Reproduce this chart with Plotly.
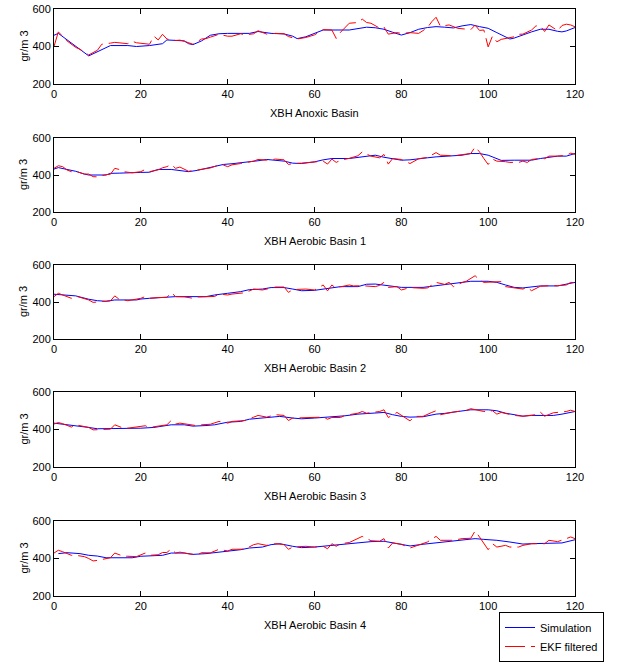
import plotly.graph_objects as go

# ---------------- data ----------------
titles = ["XBH Anoxic Basin", "XBH Aerobic Basin 1", "XBH Aerobic Basin 2",
          "XBH Aerobic Basin 3", "XBH Aerobic Basin 4"]
x_ticks = [0, 20, 40, 60, 80, 100, 120]
y_ticks = [200, 400, 600]
y_label = "gr/m 3"

# Subplot 1 - Anoxic
sim1_x = [0, 1, 8, 13, 17, 19, 22, 24, 25, 26, 30, 31, 32, 34, 36, 38, 40, 45, 47, 50,
          53, 55, 56, 58, 60, 62, 68, 70, 72, 74, 76, 78, 80, 82, 84, 86, 88, 90, 92, 94,
          96, 98, 100, 102, 104, 105, 106, 108, 110, 112, 114, 116, 117, 118, 120]
sim1_y = [460, 470, 350, 405, 405, 400, 405, 413, 415, 435, 430, 415, 410, 430, 460, 468, 470, 470, 480, 470,
          467, 455, 442, 452, 470, 488, 488, 497, 503, 500, 492, 476, 461, 474, 492, 501, 506, 503, 499, 510,
          517, 506, 497, 474, 449, 440, 445, 463, 478, 492, 492, 481, 478, 483, 501]
ekf1 = {0: 400, 1: 478, 3: 430, 5: 395, 6: 385, 8: 355, 10: 380, 11: 412, 13: 418, 14: 422, 17: 415,
        18: 428, 19: 420, 22: 412, 23: 455, 24: 435, 25: 465, 26: 440, 28: 432, 29: 434, 30: 428,
        32: 412, 34: 440, 35: 442, 36: 450, 38: 465, 40: 455, 41: 455, 43: 468, 44: 462, 46: 468,
        47: 484, 49: 466, 51: 470, 53: 468, 54: 453, 56: 440, 58: 448, 60: 462, 62: 490, 64: 488,
        65: 443, 66: 476, 67: 500, 68: 524, 70: 528, 71: 546, 72: 528, 73: 524, 75: 498, 76: 504,
        77: 466, 78: 470, 79: 474, 80: 470, 82: 474, 84: 470, 86: 500, 87: 532, 88: 556, 89: 508,
        91: 515, 93: 497, 95: 492, 96: 490, 97: 514, 98: 486, 99: 488, 100: 398, 101: 456, 102: 425,
        103: 438, 105: 448, 106: 452, 107: 465, 108: 466, 110: 488, 111: 510, 112: 510, 113: 480,
        114: 515, 116: 484, 117: 512, 118: 519, 119: 515, 120: 505}
ekf1_x = list(ekf1.keys()); ekf1_y = list(ekf1.values())

# Subplot 2 - Aerobic 1
sim2_x = [0, 1, 3, 5, 7, 8, 12, 13, 15, 19, 20, 22, 24, 27, 30, 31, 33, 35, 37, 39,
          41, 43, 45, 47, 49, 51, 53, 55, 57, 59, 60, 62, 64, 68, 70, 72, 74, 76, 78, 80,
          82, 84, 86, 88, 90, 92, 94, 96, 98, 100, 102, 103, 106, 110, 112, 114, 116, 118, 120]
sim2_y = [432, 440, 430, 420, 405, 400, 400, 409, 410, 410, 414, 415, 430, 430, 421, 418, 425, 436, 446, 457,
          461, 466, 468, 477, 484, 479, 475, 464, 462, 468, 471, 482, 489, 489, 495, 502, 507, 496, 486, 480,
          482, 489, 493, 498, 502, 504, 507, 516, 516, 507, 489, 479, 480, 480, 489, 496, 502, 502, 516]
ekf2 = {0: 436, 1: 450, 2: 445, 3: 427, 4: 418, 5: 420, 7: 405, 8: 405, 9: 391, 10: 390, 12: 402,
        13: 404, 14: 436, 15: 430, 16: 418, 18: 412, 20: 418, 21: 430, 22: 418, 24: 428, 25: 439,
        26: 445, 27: 457, 28: 436, 29: 443, 31: 420, 33: 427, 34: 430, 36: 438, 38: 454, 39: 454,
        40: 445, 41: 455, 43: 462, 45: 468, 46: 475, 47: 484, 49: 480, 51: 486, 53: 482, 54: 457,
        55: 462, 57: 464, 58: 466, 60: 468, 62: 475, 63: 459, 64: 486, 65: 468, 66: 480, 68: 490,
        70: 504, 71: 525, 73: 502, 75: 493, 76: 511, 77: 459, 78: 489, 80: 484, 82: 462, 84: 488,
        85: 490, 86: 495, 88: 521, 89: 507, 92: 504, 94: 508, 96: 516, 97: 552, 98: 525, 99: 489,
        100: 457, 101: 486, 102: 475, 104: 472, 105: 468, 107: 468, 108: 475, 109: 468, 110: 484,
        112: 490, 113: 488, 114: 502, 116: 502, 118: 507, 119: 518, 120: 512}
ekf2_x = list(ekf2.keys()); ekf2_y = list(ekf2.values())

# Subplot 3 - Aerobic 2
sim3_x = [0, 2, 5, 8, 10, 12, 14, 19, 20, 22, 24, 26, 28, 35, 37, 40, 43, 45, 48, 50,
          53, 55, 57, 60, 62, 64, 66, 70, 72, 74, 76, 78, 80, 85, 88, 90, 92, 94, 96, 100,
          102, 104, 106, 108, 110, 112, 116, 118, 120]
sim3_y = [442, 440, 433, 415, 407, 404, 411, 411, 416, 420, 424, 424, 429, 429, 438, 447, 456, 467, 470, 478,
          478, 470, 461, 463, 470, 479, 483, 483, 496, 497, 492, 483, 479, 479, 488, 496, 499, 506, 512, 512,
          506, 492, 479, 476, 481, 487, 487, 496, 506]
ekf3 = {0: 429, 1: 447, 2: 438, 4: 420, 5: 432, 7: 420, 8: 411, 9: 398, 10: 400, 12: 404, 13: 406,
        14: 433, 15: 415, 17: 407, 18: 410, 20: 420, 21: 429, 22: 420, 24: 424, 26: 425, 27: 451,
        28: 429, 30: 428, 32: 420, 33: 427, 35: 430, 37: 430, 38: 443, 40: 438, 41: 443, 44: 450,
        46: 470, 48: 465, 50: 475, 51: 481, 53: 481, 54: 452, 55: 467, 58: 470, 60: 465, 62: 492,
        63: 460, 64: 492, 65: 474, 66: 482, 68: 492, 69: 487, 71: 488, 73: 487, 74: 483, 75: 490,
        76: 506, 77: 479, 79: 483, 80: 465, 82: 478, 85: 474, 86: 476, 88: 506, 90: 495, 91: 506,
        92: 483, 94: 505, 95: 513, 97: 542, 98: 519, 99: 506, 101: 510, 103: 510, 104: 483, 105: 480,
        106: 474, 108: 470, 109: 479, 110: 461, 112: 485, 113: 487, 114: 488, 116: 488, 118: 492,
        119: 506, 120: 504}
ekf3_x = list(ekf3.keys()); ekf3_y = list(ekf3.values())

# Subplot 4 - Aerobic 3
sim4_x = [0, 2, 5, 8, 10, 13, 18, 20, 23, 25, 27, 30, 32, 35, 37, 40, 43, 45, 48, 50,
          52, 55, 57, 60, 64, 67, 70, 74, 76, 78, 80, 82, 85, 88, 90, 93, 96, 100, 102, 104,
          106, 108, 110, 115, 117, 120]
sim4_y = [434, 429, 420, 411, 404, 404, 404, 407, 411, 420, 425, 425, 418, 421, 425, 439, 443, 455, 461, 464,
          470, 461, 457, 461, 466, 473, 482, 487, 491, 479, 470, 466, 468, 482, 486, 496, 505, 505, 500, 487,
          479, 471, 475, 475, 482, 496]
ekf4 = {0: 429, 1: 437, 2: 431, 4: 413, 5: 425, 7: 415, 8: 411, 9: 398, 10: 398, 13: 402, 14: 425,
        16: 407, 17: 407, 20: 416, 21: 420, 22: 411, 24: 418, 26: 425, 27: 448, 28: 429, 29: 434,
        31: 425, 33: 420, 34: 425, 36: 428, 38: 443, 40: 434, 41: 443, 44: 448, 46: 466, 47: 475,
        49: 466, 51: 479, 53: 475, 54: 448, 55: 461, 58: 464, 60: 464, 62: 466, 63: 455, 64: 464,
        66: 464, 67: 475, 70: 487, 71: 496, 72: 487, 75: 496, 76: 505, 77: 464, 79: 491, 80: 475,
        82: 446, 83: 470, 85: 470, 87: 491, 88: 500, 89: 479, 92: 493, 95: 502, 96: 511, 99: 496,
        101: 500, 102: 482, 103: 491, 106: 475, 108: 471, 111: 479, 112: 493, 113: 471, 115: 489,
        118: 496, 119: 503, 120: 496}
ekf4_x = list(ekf4.keys()); ekf4_y = list(ekf4.values())

# Subplot 5 - Aerobic 4
sim5_x = [1, 3, 6, 8, 10, 12, 18, 20, 25, 27, 30, 32, 35, 38, 40, 43, 45, 48, 50, 52,
          55, 57, 60, 63, 66, 70, 73, 76, 78, 80, 82, 85, 88, 91, 94, 97, 99, 102, 105, 108,
          110, 114, 117, 120]
sim5_y = [426, 431, 426, 417, 413, 404, 404, 412, 417, 429, 429, 422, 426, 433, 440, 447, 456, 461, 474, 479,
          465, 458, 461, 468, 476, 483, 490, 492, 483, 476, 467, 476, 484, 488, 497, 506, 502, 497, 488, 477,
          479, 479, 483, 500]
ekf5 = {0: 429, 1: 444, 2: 436, 4: 417, 5: 417, 7: 410, 8: 400, 9: 387, 10: 390, 12: 402, 13: 404,
        14: 429, 16: 412, 17: 412, 19: 410, 21: 429, 22: 417, 24: 420, 25: 432, 26: 432, 27: 451,
        28: 429, 29: 434, 31: 425, 33: 420, 34: 431, 36: 430, 38: 449, 40: 440, 41: 449, 43: 449,
        44: 450, 46: 474, 47: 479, 49: 470, 51: 479, 53: 474, 54: 449, 55: 461, 58: 465, 60: 461,
        62: 465, 63: 452, 64: 479, 65: 465, 66: 479, 68: 485, 70: 506, 71: 518, 73: 495, 75: 492,
        76: 506, 77: 456, 78: 483, 80: 476, 82: 456, 84: 474, 85: 479, 86: 488, 88: 518, 89: 497,
        92: 497, 94: 506, 96: 508, 97: 547, 98: 515, 99: 479, 100: 447, 101: 479, 102: 461, 104: 470,
        105: 461, 107: 461, 108: 470, 110: 479, 113: 479, 114: 497, 116: 490, 118: 506, 119: 515,
        120: 506}
ekf5_x = list(ekf5.keys()); ekf5_y = list(ekf5.values())

sims = [(sim1_x, sim1_y), (sim2_x, sim2_y), (sim3_x, sim3_y), (sim4_x, sim4_y), (sim5_x, sim5_y)]
ekfs = [(ekf1_x, ekf1_y), (ekf2_x, ekf2_y), (ekf3_x, ekf3_y), (ekf4_x, ekf4_y), (ekf5_x, ekf5_y)]

# ---------------- layout geometry (pixels) ----------------
W, H = 617, 662
x_left, x_right = 54, 575
tops = [9, 138, 265, 392, 521]
bottoms = [84, 212, 339, 467, 596]

FONT = "Liberation Sans, Arial, sans-serif"
fig = go.Figure()
layout = dict(width=W, height=H, autosize=False, template="none",
              margin=dict(l=0, r=0, t=0, b=0, pad=0, autoexpand=False),
              paper_bgcolor="white", plot_bgcolor="white",
              font=dict(family=FONT, size=11, color="black"),
              showlegend=True, annotations=[], hovermode=False)

for i in range(5):
    n = "" if i == 0 else str(i + 1)
    xa, ya = "x" + n, "y" + n
    sx, sy = sims[i]
    ex, ey = ekfs[i]
    fig.add_trace(go.Scatter(x=sx, y=sy, mode="lines", name="Simulation",
                             line=dict(color="#0000FF", width=1),
                             xaxis=xa, yaxis=ya, showlegend=(i == 0), legendgroup="sim"))
    fig.add_trace(go.Scatter(x=ex, y=ey, mode="lines", name="EKF filtered",
                             line=dict(color="#FF0000", width=1, dash="20px,6px"),
                             xaxis=xa, yaxis=ya, showlegend=(i == 0), legendgroup="ekf"))
    ax_common = dict(showline=True, linecolor="black", linewidth=1, mirror="ticks",
                     ticks="inside", ticklen=5, tickcolor="black", tickwidth=1, showgrid=False,
                     zeroline=False, automargin=False, ticklabeloverflow="allow",
                     tickfont=dict(family=FONT, size=11, color="black"))
    layout["xaxis" + n] = dict(domain=[x_left / W, x_right / W], range=[0, 120],
                               tickvals=x_ticks, anchor=ya, **ax_common)
    layout["yaxis" + n] = dict(domain=[1 - bottoms[i] / H, 1 - tops[i] / H], range=[200, 600],
                               tickvals=y_ticks, anchor=xa, **ax_common)
    layout["annotations"].append(dict(text=titles[i], xref="paper", yref="paper",
                                      x=(x_left + x_right) / 2 / W, y=1 - (bottoms[i] + 29) / H,
                                      xanchor="center", yanchor="middle", showarrow=False,
                                      font=dict(family=FONT, size=11, color="black")))
    layout["annotations"].append(dict(text=y_label, xref="paper", yref="paper",
                                      x=23 / W, y=1 - (tops[i] + bottoms[i]) / 2 / H,
                                      xanchor="center", yanchor="middle", showarrow=False,
                                      textangle=-90,
                                      font=dict(family=FONT, size=11, color="black")))

layout["legend"] = dict(x=499 / W, y=0, xanchor="left", yanchor="bottom",
                        bordercolor="black", borderwidth=1, bgcolor="white",
                        font=dict(family=FONT, size=11, color="black"),
                        tracegroupgap=0, itemwidth=30, orientation="v")
fig.update_layout(**layout)
fig.write_html("out.html", config={"displayModeBar": False, "staticPlot": True},
               post_script="document.body.style.margin='0px';document.body.style.overflow='hidden';")
